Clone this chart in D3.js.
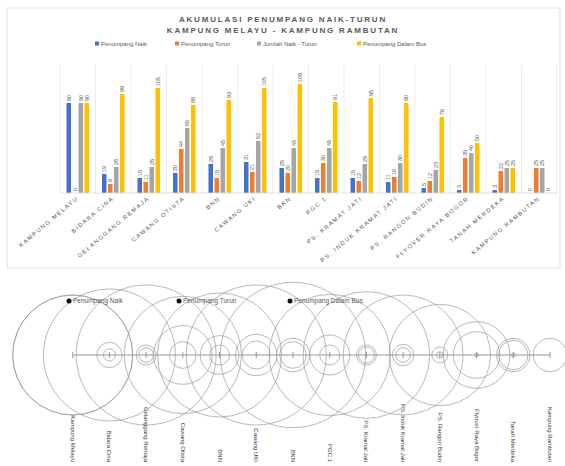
<!DOCTYPE html>
<html>
<head>
<meta charset="utf-8">
<script src="https://cdn.jsdelivr.net/npm/d3@7"></script>
<style>
  body { margin: 0; background: #fff; }
  svg { font-family: 'Liberation Sans', Arial, sans-serif; }
</style>
</head>
<body>
<svg id="chart" width="565" height="466"></svg>
<script>
const stops = ['KAMPUNG MELAYU', 'BIDARA CINA', 'GELANGGANG REMAJA', 'CAWANG OTISTA', 'BNN',
  'CAWANG UKI', 'BKN', 'PGC 1', 'PS. KRAMAT JATI', 'PS. INDUK KRAMAT JATI', 'PS. RANGON BUDIN',
  'FLYOVER RAYA BOGOR', 'TANAH MERDEKA', 'KAMPUNG RAMBUTAN']
const stopLabels = ['Kampung Melayu', 'Bidara Cina', 'Gelanggang Remaja', 'Cawang Otista', 'BNN',
  'Cawang UKI', 'BKN', 'PGC 1', 'PS. Kramat Jati', 'PS. Induk Kramat Jati', 'PS. Rangon Budin',
  'Flyover Raya Bogor', 'Tanah Merdeka', 'Kampung Rambutan']

const naik = [90, 19, 15, 20, 29, 31, 25, 15, 15, 11, 5, 3, 3, 0]
const turun = [0, 9, 11, 44, 15, 21, 20, 30, 12, 16, 12, 35, 22, 25]
const jumlah = [90, 26, 26, 65, 45, 52, 45, 45, 29, 30, 23, 40, 25, 25]
const dalamBus = [90, 99, 105, 88, 93, 105, 109, 91, 95, 90, 76, 50, 25, 0]

const seriesNames = ['Penumpang Naik', 'Penumpang Turun', 'Jumlah Naik - Turun', 'Penumpang Dalam Bus']
const seriesColors = ['#4472c4', '#ed7d31', '#a5a5a5', '#ffc000']
const bubbleNames = ['Penumpang Naik', 'Penumpang Turun', 'Penumpang Dalam Bus']

const seriesValues = [naik, turun, jumlah, dalamBus]
const textColor = '#595959'

const svg = d3.select('#chart')

// ---------- top: grouped bar chart ----------
svg.append('rect')
  .attr('x', 7).attr('y', 8)
  .attr('width', 553).attr('height', 260)
  .attr('fill', '#fff').attr('stroke', '#d9d9d9').attr('stroke-width', 0.8)

const title = svg.append('text')
  .attr('text-anchor', 'middle')
  .attr('fill', textColor)
  .attr('font-size', 8)
  .attr('font-weight', 'bold')
  .attr('letter-spacing', 1.8)
title.append('tspan').attr('x', 283).attr('y', 22).text('AKUMULASI PENUMPANG NAIK-TURUN')
title.append('tspan').attr('x', 283).attr('y', 33).text('KAMPUNG MELAYU - KAMPUNG RAMBUTAN')

// legend
const legendX = [95, 175, 257, 357]
const legend = svg.append('g')
seriesNames.forEach((name, i) => {
  const g = legend.append('g').attr('transform', `translate(${legendX[i]} 45)`)
  g.append('rect').attr('x', 0).attr('y', -3.5).attr('width', 4).attr('height', 4)
    .attr('fill', seriesColors[i])
  g.append('text').attr('x', 6).attr('y', 0.5)
    .attr('font-size', 6).attr('fill', textColor).text(name)
})

const baseY = 193
const x0 = d3.scaleBand().domain(stops).range([60, 557]).padding(0)
const x1 = d3.scaleBand().domain(seriesNames).range([0, x0.bandwidth()])
  .paddingInner(0.25).paddingOuter(1.08)
const y = d3.scaleLinear().domain([0, 128]).range([baseY, 65])

// category separators
svg.append('g').selectAll('line')
  .data(stops.concat(['end']))
  .join('line')
  .attr('x1', (d, i) => 60 + i * x0.bandwidth())
  .attr('x2', (d, i) => 60 + i * x0.bandwidth())
  .attr('y1', 65).attr('y2', baseY)
  .attr('stroke', '#e4e4e4').attr('stroke-width', 0.7)

const groups = svg.append('g').selectAll('g')
  .data(stops)
  .join('g')
  .attr('transform', (d) => `translate(${x0(d)} 0)`)

const cells = (d, i) => seriesNames.map((s, k) => ({ s, k, v: seriesValues[k][i] }))

groups.selectAll('rect')
  .data(cells)
  .join('rect')
  .attr('x', (d) => x1(d.s))
  .attr('width', x1.bandwidth())
  .attr('y', (d) => y(d.v))
  .attr('height', (d) => baseY - y(d.v))
  .attr('fill', (d) => seriesColors[d.k])

groups.selectAll('text')
  .data(cells)
  .join('text')
  .attr('transform', (d) => `translate(${x1(d.s) + x1.bandwidth() / 2 + 2} ${y(d.v) - 2}) rotate(-90)`)
  .attr('font-size', 5.5)
  .attr('fill', textColor)
  .text((d) => d.v)

// category axis
svg.append('line')
  .attr('x1', 60).attr('x2', 557).attr('y1', baseY).attr('y2', baseY)
  .attr('stroke', '#d9d9d9').attr('stroke-width', 0.8)

svg.append('g').selectAll('text')
  .data(stops)
  .join('text')
  .attr('transform', (d) => `translate(${x0(d) + x0.bandwidth() / 2 + 1} ${baseY + 6}) rotate(-40)`)
  .attr('text-anchor', 'end')
  .attr('font-size', 5.8)
  .attr('letter-spacing', 1.5)
  .attr('fill', textColor)
  .text((d) => d)

// ---------- bottom: circle diagram ----------
const axisY = 355
const xs = d3.scalePoint().domain(stopLabels).range([72.7, 550])
const r = d3.scaleLinear().domain([0, 90]).range([0, 60])
const bubbleValues = [naik, turun, dalamBus]

const bottom = svg.append('g')

bottom.append('line')
  .attr('x1', xs(stopLabels[0])).attr('x2', xs(stopLabels[stopLabels.length - 1]))
  .attr('y1', axisY).attr('y2', axisY)
  .attr('stroke', '#7f7f7f').attr('stroke-width', 0.8)

bottom.append('g').selectAll('line')
  .data(stopLabels)
  .join('line')
  .attr('x1', (d) => xs(d)).attr('x2', (d) => xs(d))
  .attr('y1', axisY - 3).attr('y2', axisY + 3)
  .attr('stroke', '#7f7f7f').attr('stroke-width', 0.8)

bubbleValues.forEach((vals) => {
  bottom.append('g').selectAll('circle')
    .data(stopLabels.map((s, i) => ({ s, v: vals[i] })).filter((d) => d.v > 0))
    .join('circle')
    .attr('cx', (d) => xs(d.s))
    .attr('cy', axisY)
    .attr('r', (d) => r(d.v))
    .attr('fill', 'none')
    .attr('stroke', '#9a9a9a')
    .attr('stroke-width', 0.7)
})

const bubbleLegendX = [69, 179, 290]
bubbleNames.forEach((name, i) => {
  const g = bottom.append('g').attr('transform', `translate(${bubbleLegendX[i]} 301)`)
  g.append('circle').attr('r', 2.5).attr('fill', '#111')
  g.append('text').attr('x', 4).attr('y', 2.2)
    .attr('font-size', 6.5).attr('fill', textColor).text(name)
})

bottom.append('g').selectAll('text')
  .data(stopLabels)
  .join('text')
  .attr('transform', (d) => `translate(${xs(d) - 2} 462) rotate(90)`)
  .attr('text-anchor', 'end')
  .attr('font-size', 6)
  .attr('fill', '#404040')
  .text((d) => d)
</script>
</body>
</html>
